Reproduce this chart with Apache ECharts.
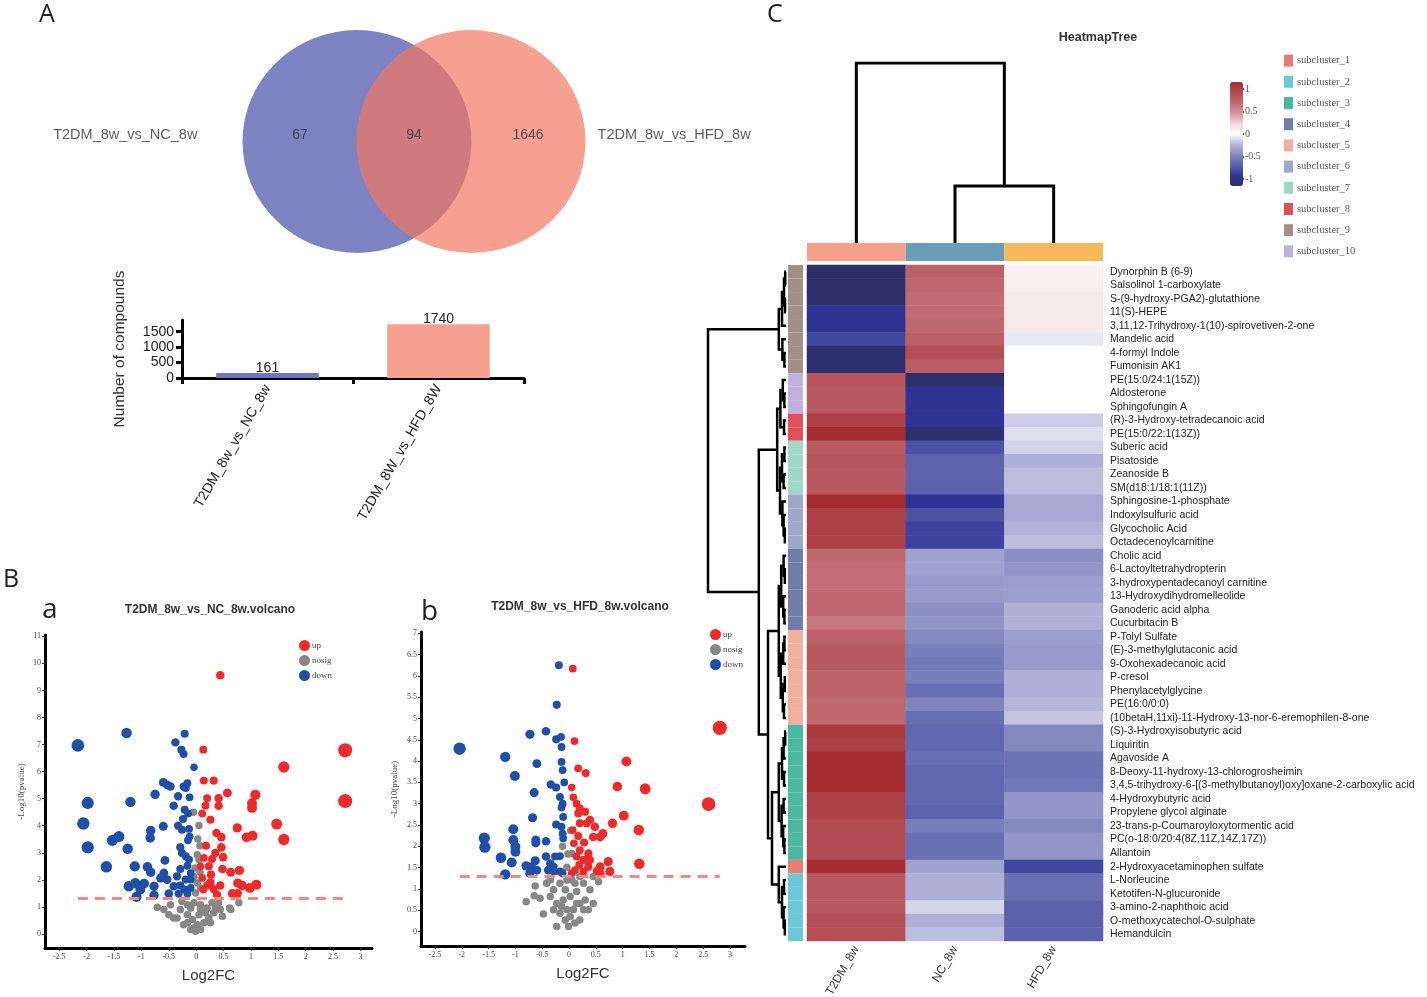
<!DOCTYPE html>
<html><head><meta charset="utf-8">
<script src="https://cdn.jsdelivr.net/npm/echarts@6/dist/echarts.min.js"></script>
<style>html,body{margin:0;padding:0;background:#fff}#c{width:1427px;height:997px}</style>
</head><body><div id="c"></div>
<script>
// ================= DATA =================
const vennSets = ['T2DM_8w_vs_NC_8w', 'T2DM_8w_vs_HFD_8w'];
const vennCounts = [67, 94, 1646];            // only-NC, shared, only-HFD
const barCategories = ['T2DM_8w_vs_NC_8w', 'T2DM_8W_vs_HFD_8W'];
const barValues = [161, 1740];

const volcA_up = [[0.44,9.56],[2.72,6.79],[2.72,4.91],[1.6,6.17],[0.13,6.81],[0.14,5.67],[0.32,5.67],[0.57,5.21],[0.41,5.02],[0.2,5.02],[0.41,4.74],[1.08,5.14],[1.02,4.83],[1.02,4.66],[0.17,4.74],[0.11,4.45],[0.26,4.22],[1.47,4.06],[1.6,3.49],[0.75,3.92],[1.03,3.63],[0.92,3.57],[0.37,3.73],[0.46,3.58],[0.18,3.26],[0.46,3.2],[0.49,2.84],[0.14,2.81],[0.29,2.77],[0.23,2.5],[0.48,2.4],[0.63,2.28],[0.79,2.35],[0.11,2.07],[0.27,2.19],[0.26,1.91],[0.44,1.79],[0.32,1.66],[0.76,1.88],[0.84,1.79],[0.98,1.7],[1.1,1.82],[0.66,1.49],[0.75,1.49],[0.13,1.64],[0.2,1.79],[0.38,1.45],[0.08,2.5],[0.35,2.99]];
const volcA_down = [[-2.16,6.97],[-1.27,7.43],[-0.21,7.4],[-0.38,7.08],[-0.27,6.81],[-0.23,6.65],[-0.04,6.16],[-1.98,4.84],[-1.2,4.88],[-2.06,4.08],[-1.98,3.2],[-0.6,5.6],[-0.53,5.51],[-0.47,5.45],[-0.75,5.16],[-0.23,5.45],[-0.16,5.57],[-0.19,5.39],[-0.33,5.09],[-0.12,5.05],[-0.41,4.74],[-0.21,4.59],[-0.15,4.45],[-0.24,4.25],[-0.6,3.98],[-0.33,4.0],[-0.83,3.82],[-0.84,3.55],[-0.26,3.85],[-0.13,3.88],[-0.12,3.6],[-0.15,3.46],[-1.41,3.6],[-1.53,3.46],[-1.25,3.15],[-0.29,3.2],[-0.26,2.99],[-0.19,2.87],[-0.13,2.75],[-0.57,2.72],[-1.64,2.48],[-1.12,2.5],[-0.89,2.48],[-0.83,2.28],[-0.59,2.25],[-0.29,2.4],[-0.16,2.52],[-0.1,2.25],[-0.65,2.07],[-0.53,2.01],[-0.35,2.13],[-0.19,2.01],[-0.1,2.01],[-1.23,1.76],[-0.95,1.86],[-1.11,1.88],[-1.02,1.64],[-0.77,1.76],[-0.41,1.76],[-0.29,1.79],[-0.21,1.64],[-1.09,1.37],[-0.77,1.43],[-0.5,1.49],[-0.32,1.49],[-0.16,1.49],[-0.1,1.7]];
const volcA_nosig = [[-0.05,4.5],[0.05,4.01],[0.03,3.51],[0.07,3.26],[0.02,2.93],[0.05,2.75],[-0.02,2.44],[0.07,2.28],[-0.04,2.11],[0.02,1.88],[0.08,1.7],[-0.01,1.51],[-0.71,0.99],[0.41,1.15],[0.61,0.96],[0.78,1.15],[0.63,0.9],[0.48,0.65],[-0.41,0.59],[-0.47,1.08],[-0.29,0.9],[-0.16,0.71],[-0.07,0.53],[0.02,0.34],[0.08,0.16],[-0.04,0.22],[0.14,0.41],[0.23,0.59],[0.32,0.78],[0.2,0.96],[0.08,1.08],[-0.04,1.15],[-0.16,1.08],[-0.26,1.21],[-0.35,0.59],[-0.16,0.41],[0.05,0.71],[0.17,0.78],[0.35,0.96],[0.26,0.41],[-0.1,0.16],[-0.01,0.1],[-0.23,0.34],[-0.5,0.71],[-0.59,0.9],[0.44,0.9],[0.08,0.9],[0.29,1.15],[-0.1,0.96]];

const volcB_up = [[0.07,6.17],[2.81,4.78],[0.1,4.47],[1.07,3.99],[2.6,2.99],[0.9,3.4],[1.42,3.35],[0.17,3.83],[0.31,3.72],[0.05,3.38],[1.02,2.72],[0.81,2.54],[1.3,2.38],[1.31,1.59],[0.08,3.15],[0.14,3.0],[0.2,2.89],[0.3,2.81],[0.17,2.77],[0.39,2.62],[0.33,2.54],[0.07,2.38],[0.17,2.24],[0.45,2.22],[0.58,2.22],[0.63,2.3],[0.28,2.09],[0.2,1.91],[0.36,1.83],[0.14,1.76],[0.27,1.68],[0.39,1.68],[0.19,1.56],[0.36,1.52],[0.58,1.52],[0.73,1.64],[0.76,1.41],[0.52,1.42],[0.11,1.44],[0.27,1.41],[0.58,1.37],[0.05,1.37],[0.48,2.46],[0.2,2.54],[0.09,2.07]];
const volcB_down = [[-0.19,6.25],[-0.23,5.32],[-2.04,4.29],[-0.73,4.63],[-0.43,4.7],[-0.24,4.51],[-0.15,4.57],[-0.14,4.33],[-1.19,4.1],[-0.6,3.94],[-0.14,3.98],[-0.12,3.79],[-1.01,3.65],[-0.34,3.45],[-0.24,3.38],[-0.09,3.5],[-0.65,3.26],[-0.17,3.16],[-0.12,3.0],[-0.14,2.91],[-0.68,2.67],[-0.11,2.69],[-0.24,2.51],[-0.12,2.3],[-0.11,2.19],[-1.04,2.4],[-1.58,2.19],[-1.57,1.98],[-1.04,2.15],[-1.0,1.99],[-1.0,1.87],[-0.62,2.15],[-0.62,2.08],[-0.43,2.12],[-1.27,1.73],[-1.07,1.62],[-0.8,1.54],[-0.63,1.66],[-0.7,1.52],[-0.6,1.44],[-0.73,1.37],[-1.19,1.34],[-0.43,1.76],[-0.26,1.76],[-0.17,1.77],[-0.35,1.6],[-0.39,1.44],[-0.28,1.41],[-0.17,1.41],[-0.12,1.37],[-0.29,1.52],[-0.14,2.46]];
const volcB_nosig = [[0.03,2.37],[-0.12,2.0],[0.05,1.83],[-0.02,1.82],[-0.04,1.51],[-0.8,0.7],[-0.65,0.84],[-0.54,0.78],[-0.48,0.41],[-0.63,1.07],[-0.35,1.21],[-0.29,0.98],[-0.17,1.13],[-0.04,1.21],[0.11,1.13],[0.27,1.13],[0.39,0.98],[0.55,1.17],[0.45,0.66],[0.2,0.66],[0.08,0.51],[-0.01,0.12],[-0.07,0.27],[-0.17,0.43],[-0.29,0.51],[-0.35,0.82],[-0.23,0.66],[-0.11,0.74],[0.02,0.82],[0.14,0.94],[0.3,0.74],[0.36,0.51],[0.2,0.27],[0.11,0.2],[0.02,0.35],[-0.14,0.59],[-0.07,0.98],[0.05,1.21],[0.2,1.29],[0.45,1.29],[-0.42,1.13],[-0.23,0.12],[0.27,0.51],[0.14,0.66],[-0.04,0.51]];
const pThreshold = 1.301; // -log10(0.05)

const heatCols = ['T2DM_8w', 'NC_8w', 'HFD_8w'];
const compounds = ['Dynorphin B (6-9)','Salsolinol 1-carboxylate','S-(9-hydroxy-PGA2)-glutathione','11(S)-HEPE','3,11,12-Trihydroxy-1(10)-spirovetiven-2-one','Mandelic acid','4-formyl Indole','Fumonisin AK1','PE(15:0/24:1(15Z))','Aldosterone','Sphingofungin A','(R)-3-Hydroxy-tetradecanoic acid','PE(15:0/22:1(13Z))','Suberic acid','Pisatoside','Zeanoside B','SM(d18:1/18:1(11Z))','Sphingosine-1-phosphate','Indoxylsulfuric acid','Glycocholic Acid','Octadecenoylcarnitine','Cholic acid','6-Lactoyltetrahydropterin','3-hydroxypentadecanoyl carnitine','13-Hydroxydihydromelleolide','Ganoderic acid alpha','Cucurbitacin B','P-Tolyl Sulfate','(E)-3-methylglutaconic acid','9-Oxohexadecanoic acid','P-cresol','Phenylacetylglycine','PE(16:0/0:0)','(10betaH,11xi)-11-Hydroxy-13-nor-6-eremophilen-8-one','(S)-3-Hydroxyisobutyric acid','Liquiritin','Agavoside A','8-Deoxy-11-hydroxy-13-chlorogrosheimin','3,4,5-trihydroxy-6-[(3-methylbutanoyl)oxy]oxane-2-carboxylic acid','4-Hydroxybutyric acid','Propylene glycol alginate','23-trans-p-Coumaroyloxytormentic acid','PC(o-18:0/20:4(8Z,11Z,14Z,17Z))','Allantoin','2-Hydroxyacetaminophen sulfate','L-Norleucine','Ketotifen-N-glucuronide','3-amino-2-naphthoic acid','O-methoxycatechol-O-sulphate','Hemandulcin'];
const zT2DM = [-1.155,-1.155,-1.155,-0.95,-0.95,-0.82,-1.12,-1.14,0.85,0.82,0.82,1.0,1.15,0.82,0.85,0.82,0.82,1.15,1.0,1.0,1.0,0.7,0.67,0.67,0.7,0.7,0.62,0.75,0.82,0.82,0.75,0.75,0.7,0.7,1.05,1.01,1.15,1.15,1.15,1.0,1.0,0.93,0.93,0.93,1.15,0.82,0.82,0.82,0.9,0.9];
const zNC   = [0.76,0.72,0.68,0.68,0.71,0.78,0.9,0.8,-1.14,-0.95,-0.95,-0.93,-1.12,-0.77,-0.68,-0.68,-0.69,-0.94,-0.77,-0.85,-0.85,-0.33,-0.33,-0.37,-0.37,-0.43,-0.4,-0.46,-0.52,-0.55,-0.52,-0.61,-0.49,-0.61,-0.65,-0.65,-0.61,-0.65,-0.65,-0.65,-0.68,-0.52,-0.61,-0.61,-0.33,-0.26,-0.26,-0.13,-0.26,-0.21];
const zHFD  = [0.08,0.09,0.12,0.12,0.12,-0.07,0,0,0,0,0,-0.16,-0.1,-0.14,-0.26,-0.21,-0.21,-0.3,-0.3,-0.245,-0.21,-0.43,-0.4,-0.35,-0.35,-0.26,-0.26,-0.35,-0.37,-0.37,-0.27,-0.27,-0.23,-0.18,-0.47,-0.47,-0.59,-0.59,-0.56,-0.4,-0.4,-0.47,-0.4,-0.4,-0.82,-0.61,-0.61,-0.69,-0.69,-0.69];
const rowCluster = [9,9,9,9,9,9,9,9,10,10,10,8,8,7,7,7,7,6,6,6,6,4,4,4,4,4,4,5,5,5,5,5,5,5,3,3,3,3,3,3,3,3,3,3,1,2,2,2,2,2];
const subclusters = ['subcluster_1','subcluster_2','subcluster_3','subcluster_4','subcluster_5','subcluster_6','subcluster_7','subcluster_8','subcluster_9','subcluster_10'];
// row dendrogram: [height, left, right]; leaves = row index
const rowTree = [9.75,
  [0.9, [0.5, [0.25, [0.1,0,1], [0.12,2,3]], 4], [0.45, 5, [0.2,6,7]]],
  [3.4,
    [1.1, [0.7, [0.4, 8, [0.2,9,10]], [0.25,11,12]], [0.75, [0.5,[0.2,13,14],[0.3,15,16]], [0.45,17,[0.3,18,[0.15,19,20]]]]],
    [2.25,
      [0.9, [0.6,[0.3,21,[0.15,22,23]],[0.35,24,[0.2,25,26]]], [0.65,[0.35,[0.2,27,28],29],[0.4,[0.15,30,31],[0.25,32,33]]]],
      [1.75,
        [0.9, [0.5,[0.3,[0.1,34,35],36],[0.25,37,38]], [0.55,[0.3,39,40],[0.35,41,[0.2,42,43]]]],
        [0.9, 44, [0.5,[0.25,45,46],[0.3,47,[0.15,48,49]]]]
      ]
    ]
  ]
];
const colTree = [10, 0, [3.17, 1, 2]];

// ================= STYLES =================
const vennColors = ['#7d82c0', 'rgba(242,119,98,0.7)'];
const barColors = ['#7276bc', '#f5a090'];
const upC = '#ee2a2a', nsC = '#878787', dnC = '#1f4fa6';
const subColors = ['#e87d72','#6cc8d8','#4cb8a0','#6f7ea8','#f0b0a0','#9ea8c8','#a0d8c8','#e0505a','#a09088','#c0b0e0'];
const colColors = ['#f4a08a','#6a9fb8','#f6b85a'];
const sans = "'Liberation Sans',Arial,sans-serif";
const serif = "'Liberation Serif','Times New Roman',serif";
const plain = v => String(v);

function dendro(tree, swap){
  const segs = [];
  function walk(n){
    if (typeof n === 'number') return [n, 0];
    const a = walk(n[1]), b = walk(n[2]), h = n[0];
    let c = [[a[1],a[0]],[h,a[0]],[h,b[0]],[b[1],b[0]]];
    if (swap) c = c.map(p => [p[1], p[0]]);
    segs.push({coords: c});
    return [(a[0]+b[0])/2, h];
  }
  walk(tree); return segs;
}
const symSize = v => Math.min(14.5, 7.5 + 2.4*Math.abs(v[0]));
function thrLine(sets){
  const xs = sets.flat().map(p => p[0]);
  return {silent:true, symbol:'none', label:{show:false},
    lineStyle:{color:'#f08a80', width:3, type:[10,7], opacity:1},
    data:[[{coord:[Math.min(...xs), pThreshold]},{coord:[Math.max(...xs), pThreshold]}]]};
}
const ticksOf = (a,b,s) => { const r=[]; for(let v=a; v<=b+1e-9; v+=s) r.push(+v.toFixed(2)); return r; };

const hidden = {show:false};
function volcAxes(gi, xmin, xmax, ymin, ymax, ymaxTick, ystep, yGap){
  const xv = ticksOf(-2.5,3,0.5), yv = ticksOf(0,ymaxTick,ystep);
  const common = {axisLine:{show:true,onZero:false,lineStyle:{color:'#000',width:3}}, splitLine:hidden};
  return [
    Object.assign({gridIndex:gi, type:'value', min:xmin, max:xmax, name:'Log2FC', nameLocation:'middle', nameGap:20,
      nameTextStyle:{fontFamily:sans, fontSize:15, color:'#333'},
      axisTick:{show:true, length:3, customValues:xv, lineStyle:{color:'#333'}},
      axisLabel:{customValues:xv, fontFamily:serif, fontSize:8, color:'#444', margin:5, formatter:plain}}, common),
    Object.assign({gridIndex:gi, type:'value', min:ymin, max:ymax, name:'-Log10(pvalue)', nameLocation:'middle', nameGap:yGap,
      nameTextStyle:{fontFamily:serif, fontSize:9, color:'#444'},
      axisTick:{show:true, length:3, customValues:yv, lineStyle:{color:'#333'}},
      axisLabel:{customValues:yv, fontFamily:serif, fontSize:8, color:'#444', margin:4, formatter:plain}}, common)
  ];
}
const vA = volcAxes(2, -2.76, 3.21, -0.52, 11.05, 11, 1, 19);
const vB = volcAxes(3, -2.76, 3.28, -0.34, 7.03, 7, 0.5, 22);

const heatData = [];
[zT2DM, zNC, zHFD].forEach((arr, c) => arr.forEach((v, r) => heatData.push([c, r, v])));

const G = (o) => Object.assign({outerBoundsMode:'none', containLabel:false}, o);
const option = {
  animation:false,
  backgroundColor:'#fff',
  grid:[
    G({left:15, top:30, width:798, height:223}),      //0 venn
    G({left:182, top:320, width:342, height:58}),     //1 bar
    G({left:45, top:635, width:327, height:313}),     //2 volcano a
    G({left:421, top:632, width:324, height:314}),    //3 volcano b
    G({left:807, top:63, width:296, height:180}),     //4 col dendro
    G({left:788, top:265, width:15, height:676}),     //5 row strip
    G({left:706, top:265, width:80, height:676}),     //6 row dendro
    G({left:807, top:265, width:296, height:676}),    //7 heatmap
    G({left:807, top:243, width:296, height:18}),     //8 col strip
    G({left:1242, top:82, width:1, height:104}),      //9 colorbar ticks
    G({left:1284, top:50, width:9, height:212})       //10 subcluster legend
  ],
  xAxis:[
    {gridIndex:0, type:'value', min:-3.5, max:3.5, show:false},
    {gridIndex:1, type:'category', data:barCategories,
      axisLine:{lineStyle:{color:'#000', width:3}}, axisTick:{show:true, length:6, lineStyle:{width:3,color:'#000'}},
      axisLabel:{rotate:60, interval:0, fontFamily:sans, fontSize:14, color:'#222', margin:8}},
    vA[0], vB[0],
    {gridIndex:4, type:'value', min:-0.5, max:2.5, show:false},
    {gridIndex:5, type:'value', min:0, max:1, show:false},
    {gridIndex:6, type:'value', min:0, max:10, inverse:true, show:false},
    {gridIndex:7, type:'category', data:heatCols, position:'bottom',
      axisLine:hidden, axisTick:hidden,
      axisLabel:{rotate:60, interval:0, fontFamily:sans, fontSize:12, color:'#333', margin:6}},
    {gridIndex:8, type:'category', data:heatCols, show:false},
    {gridIndex:9, type:'value', show:false},
    {gridIndex:10, type:'value', min:-1, max:1, show:false}
  ],
  yAxis:[
    {gridIndex:0, type:'value', min:-1, max:1, show:false},
    {gridIndex:1, type:'value', min:0, max:1880, name:'Number of compounds', nameLocation:'middle', nameGap:54,
      nameTextStyle:{fontFamily:sans, fontSize:15.5, color:'#333'},
      axisLine:{show:true, lineStyle:{color:'#000', width:3}},
      axisTick:{show:true, length:6, customValues:[0,500,1000,1500], lineStyle:{width:3,color:'#000'}},
      axisLabel:{customValues:[0,500,1000,1500], fontFamily:sans, fontSize:14, color:'#222', margin:8, formatter:plain},
      splitLine:hidden},
    vA[1], vB[1],
    {gridIndex:4, type:'value', min:0, max:10, show:false},
    {gridIndex:5, type:'category', data:compounds, inverse:true, show:false},
    {gridIndex:6, type:'value', min:-0.5, max:49.5, inverse:true, show:false},
    {gridIndex:7, type:'category', data:compounds, inverse:true, position:'right',
      axisLine:hidden, axisTick:hidden,
      axisLabel:{interval:0, fontFamily:sans, fontSize:10.5, color:'#222', margin:7}},
    {gridIndex:8, type:'value', min:0, max:1, show:false},
    {gridIndex:9, type:'value', min:-1.155, max:1.155, position:'right',
      axisLine:hidden, splitLine:hidden,
      axisTick:{show:true, length:2, customValues:[-1,-0.5,0,0.5,1], lineStyle:{color:'#555', width:2}},
      axisLabel:{customValues:[-1,-0.5,0,0.5,1], fontFamily:serif, fontSize:10, color:'#555', margin:2, formatter:plain}},
    {gridIndex:10, type:'category', data:subclusters, inverse:true, position:'right',
      axisLine:hidden, axisTick:hidden,
      axisLabel:{interval:0, fontFamily:serif, fontSize:10.5, color:'#555', margin:4}}
  ],
  visualMap:[{
    type:'continuous', seriesIndex:13, min:-1.155, max:1.155, calculable:false,
    left:1230, top:82, itemWidth:13, itemHeight:104, padding:0, text:null, showLabel:false,
    inRange:{color:['#2c2f68','#2f3496','#5a60ab','#8489c0','#b4b7da','#ffffff','#f0d6d7','#d3959a','#c06a70','#b24c52','#a52c30']}
  }],
  legend:[
    {data:['up','nosig','down'], orient:'vertical', left:299, top:640, padding:0, itemGap:4, itemWidth:11, itemHeight:11,
      icon:'circle', textStyle:{fontFamily:serif, fontSize:9, color:'#444', padding:[0,0,0,-3]}, selectedMode:false},
    {data:['up','nosig','down'], orient:'vertical', left:710, top:629, padding:0, itemGap:4, itemWidth:11, itemHeight:11,
      icon:'circle', textStyle:{fontFamily:serif, fontSize:9, color:'#444', padding:[0,0,0,-3]}, selectedMode:false}
  ],
  series:[
    // 0 venn circles
    {type:'scatter', xAxisIndex:0, yAxisIndex:0, symbol:'circle', symbolSize:[229,223], silent:true, clip:false,
      data:vennSets.map((s,i)=>({name:s, value:[i-0.5, 0], itemStyle:{color:vennColors[i], opacity:1}}))},
    // 1 venn counts
    {type:'scatter', xAxisIndex:0, yAxisIndex:0, symbolSize:0, silent:true, clip:false,
      data:vennCounts.map((c,i)=>({value:[i-1, 0.06], label:{show:true, formatter:String(c), position:'inside',
        fontFamily:sans, fontSize:14, color:'#333'}}))},
    // 2 venn set labels
    {type:'scatter', xAxisIndex:0, yAxisIndex:0, symbolSize:0, silent:true, clip:false,
      data:vennSets.map((s,i)=>({value:[i===0?-1.9:1.61, 0.06], label:{show:true, formatter:s, position:'inside',
        align:i===0?'right':'left', fontFamily:sans, fontSize:14.5, color:'#333'}}))},
    // 3 bar
    {type:'bar', xAxisIndex:1, yAxisIndex:1, barWidth:'60%', silent:true,
      data:barValues.map((v,i)=>({value:v, itemStyle:{color:barColors[i]}})),
      label:{show:true, position:'top', distance:-2, fontFamily:sans, fontSize:14, color:'#222'}},
    // 4-6 volcano a
    {name:'nosig', type:'scatter', xAxisIndex:2, yAxisIndex:2, data:volcA_nosig, symbolSize:7.5, itemStyle:{color:nsC, opacity:1}, silent:true},
    {name:'up', type:'scatter', xAxisIndex:2, yAxisIndex:2, data:volcA_up, symbolSize:symSize, itemStyle:{color:upC, opacity:1}, silent:true},
    {name:'down', type:'scatter', xAxisIndex:2, yAxisIndex:2, data:volcA_down, symbolSize:symSize, itemStyle:{color:dnC, opacity:1}, silent:true,
      markLine:thrLine([volcA_up, volcA_down])},
    // 7-9 volcano b
    {name:'nosig', type:'scatter', xAxisIndex:3, yAxisIndex:3, data:volcB_nosig, symbolSize:7.5, itemStyle:{color:nsC, opacity:1}, silent:true},
    {name:'up', type:'scatter', xAxisIndex:3, yAxisIndex:3, data:volcB_up, symbolSize:symSize, itemStyle:{color:upC, opacity:1}, silent:true},
    {name:'down', type:'scatter', xAxisIndex:3, yAxisIndex:3, data:volcB_down, symbolSize:symSize, itemStyle:{color:dnC, opacity:1}, silent:true,
      markLine:thrLine([volcB_up, volcB_down])},
    // 10 col dendrogram
    {type:'lines', coordinateSystem:'cartesian2d', xAxisIndex:4, yAxisIndex:4, polyline:true, silent:true,
      lineStyle:{color:'#000', width:3, opacity:1}, data:dendro(colTree, true)},
    // 11 row cluster strip
    {type:'bar', xAxisIndex:5, yAxisIndex:5, barWidth:'100%', barCategoryGap:'0%', silent:true,
      data:rowCluster.map(c=>({value:1, itemStyle:{color:subColors[c-1]}}))},
    // 12 row dendrogram
    {type:'lines', coordinateSystem:'cartesian2d', xAxisIndex:6, yAxisIndex:6, polyline:true, silent:true,
      lineStyle:{color:'#000', width:2.5, opacity:1}, data:dendro(rowTree, false)},
    // 13 heatmap
    {type:'heatmap', xAxisIndex:7, yAxisIndex:7, data:heatData, silent:true, itemStyle:{borderWidth:0}},
    // 14 column group strip
    {type:'bar', xAxisIndex:8, yAxisIndex:8, barWidth:'100%', barCategoryGap:'0%', silent:true,
      data:heatCols.map((c,i)=>({value:1, itemStyle:{color:colColors[i]}}))},
    // 15 colorbar axis holder
    {type:'scatter', xAxisIndex:9, yAxisIndex:9, data:[], silent:true},
    // 16 subcluster legend
    {type:'scatter', xAxisIndex:10, yAxisIndex:10, symbol:'rect', symbolSize:[9,12], silent:true,
      data:subclusters.map((s,i)=>({value:[0, i], itemStyle:{color:subColors[i], opacity:1}}))}
  ],
  graphic:[
    {type:'text', x:39, y:2, style:{text:'A', fontFamily:"'Open Sans',sans-serif", fontSize:25, fill:'#222'}},
    {type:'text', x:3, y:567, style:{text:'B', fontFamily:"'Open Sans',sans-serif", fontSize:25, fill:'#222'}},
    {type:'text', x:767, y:2, style:{text:'C', fontFamily:"'Open Sans',sans-serif", fontSize:25, fill:'#222'}},
    {type:'text', x:42, y:596, style:{text:'a', fontFamily:"'Open Sans',sans-serif", fontSize:28, fill:'#222'}},
    {type:'text', x:421, y:598, style:{text:'b', fontFamily:"'Open Sans',sans-serif", fontSize:28, fill:'#222'}},
    {type:'text', x:210, y:610, style:{text:'T2DM_8w_vs_NC_8w.volcano', align:'center', verticalAlign:'middle', fontFamily:sans, fontWeight:'bold', fontSize:12, fill:'#333'}},
    {type:'text', x:580, y:607, style:{text:'T2DM_8w_vs_HFD_8w.volcano', align:'center', verticalAlign:'middle', fontFamily:sans, fontWeight:'bold', fontSize:12, fill:'#333'}},
    {type:'text', x:1098, y:38, style:{text:'HeatmapTree', align:'center', verticalAlign:'middle', fontFamily:sans, fontWeight:'bold', fontSize:12.5, fill:'#333'}}
  ]
};
const chart = echarts.init(document.getElementById('c'), null, {renderer:'canvas'});
chart.setOption(option);
</script></body></html>
